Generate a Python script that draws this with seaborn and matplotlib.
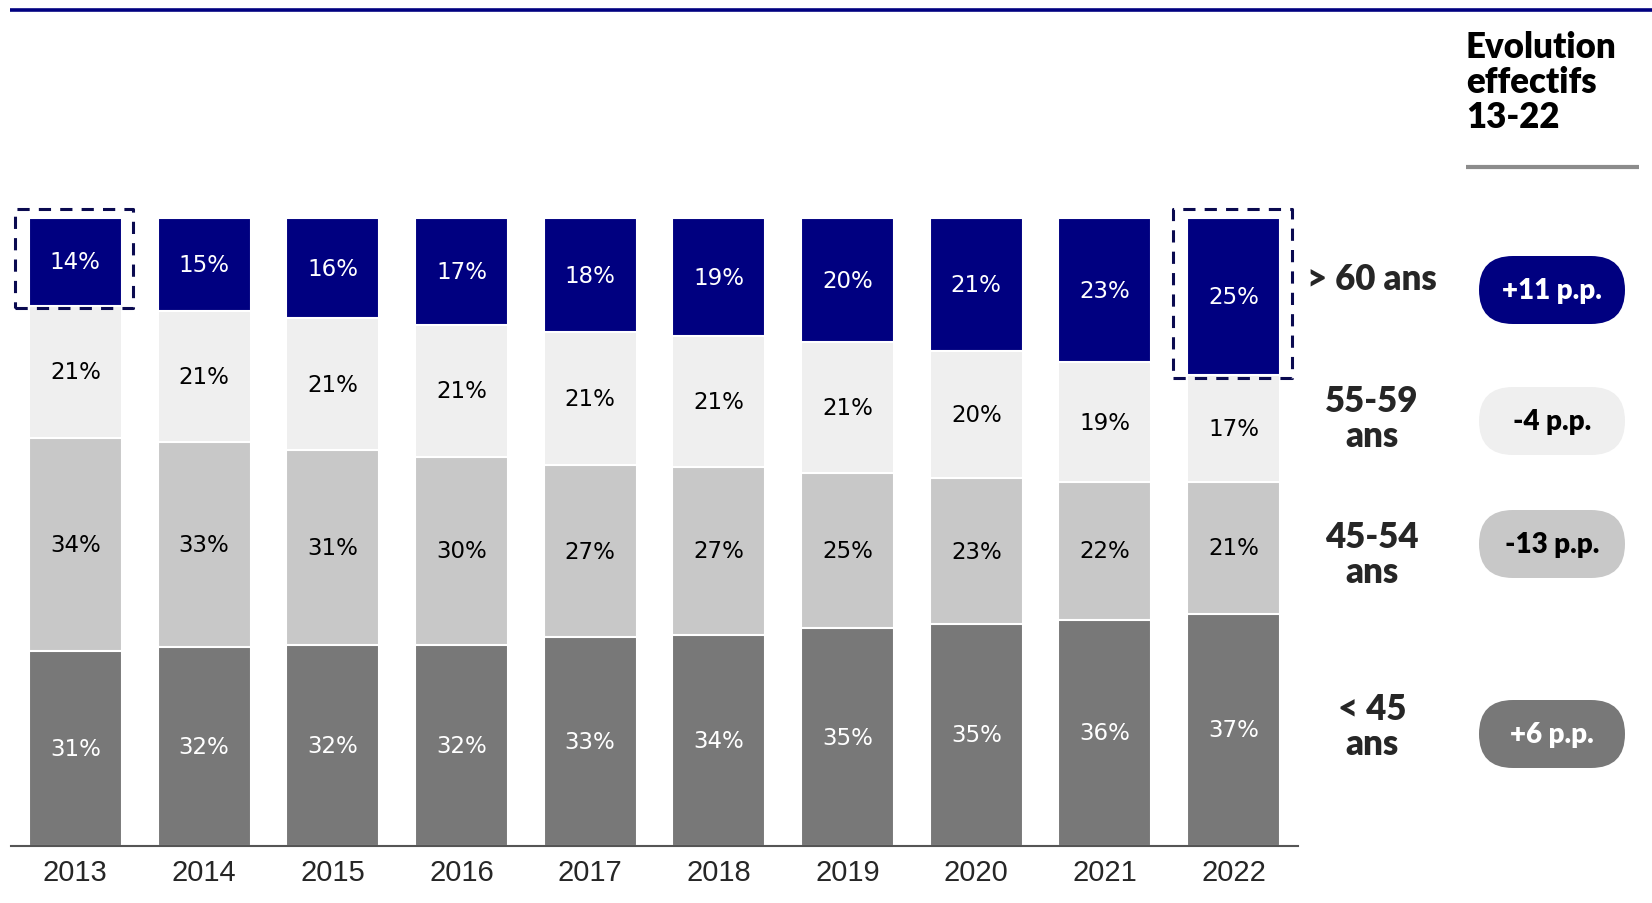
"""Pyramide des âges — barres empilées 2013-2022 avec évolution en p.p."""

import matplotlib
matplotlib.use("Agg")
import matplotlib.pyplot as plt
import numpy as np
import pandas as pd
import seaborn as sns
from matplotlib.patches import FancyBboxPatch, Rectangle

# ── données ──
years = [2013, 2014, 2015, 2016, 2017, 2018, 2019, 2020, 2021, 2022]
moins_45 = [31, 32, 32, 32, 33, 34, 35, 35, 36, 37]
de_45_54 = [34, 33, 31, 30, 27, 27, 25, 23, 22, 21]
de_55_59 = [21, 21, 21, 21, 21, 21, 21, 20, 19, 17]
plus_60 = [14, 15, 16, 17, 18, 19, 20, 21, 23, 25]

layer_names = ["< 45\nans", "45-54\nans", "55-59\nans", "> 60 ans"]
layer_colors = ["#787878", "#c8c8c8", "#efefef", "#000080"]
label_colors = ["white", "black", "black", "white"]
evolution = ["+6 p.p.", "-13 p.p.", "-4 p.p.", "+11 p.p."]
pill_text_colors = ["white", "black", "black", "white"]
header = "Evolution\neffectifs\n13-22"

NAVY = "#000080"

sns.set_theme(style="white")
plt.rcParams["font.family"] = ["DejaVu Sans"]

vals = np.array([moins_45, de_45_54, de_55_59, plus_60], dtype=float)
shares = vals / vals.sum(axis=0) * 100  # normalisé à 100 %
cum = np.cumsum(shares, axis=0)

fig = plt.figure(figsize=(16.52, 9.04), dpi=100)
W, H = 1652, 904
ax = fig.add_axes([11 / W, (H - 847) / H, 1287 / W, 628 / H])

# barres superposées : cumul le plus haut d'abord
for i in range(3, -1, -1):
    df = pd.DataFrame({"year": [str(y) for y in years], "cum": cum[i]})
    sns.barplot(data=df, x="year", y="cum", color=layer_colors[i], saturation=1,
                width=0.723, edgecolor="white", linewidth=1.5, errorbar=None, ax=ax)

# étiquettes dans les segments
for i in range(4):
    base = cum[i] - shares[i]
    for j in range(len(years)):
        ax.text(j, base[j] + shares[i][j] / 2, f"{int(vals[i][j])}%",
                ha="center", va="center", color=label_colors[i], fontsize=16.5,
                family="DejaVu Sans")

# encadrés pointillés (2013 et 2022, > 60 ans)
for j in [0, len(years) - 1]:
    y0 = 100 - shares[3][j] - 0.4
    rect = Rectangle((j - 0.47, y0), 0.92, 101.5 - y0, fill=False,
                     edgecolor="#0a0a50", linewidth=2.2, linestyle=(0, (4, 3)),
                     clip_on=False, zorder=5, joinstyle="round")
    ax.add_patch(rect)

ax.set_xlim(-0.5, 9.5)
ax.set_ylim(0, 100)
ax.set_xlabel("")
ax.set_ylabel("")
ax.set_yticks([])
ax.tick_params(axis="x", length=0, pad=9, labelsize=21)
for lbl in ax.get_xticklabels():
    lbl.set_family("Liberation Sans")
for side in ["top", "left", "right"]:
    ax.spines[side].set_visible(False)
ax.spines["bottom"].set_color("#555555")
ax.spines["bottom"].set_linewidth(1.5)

# ── calque en pixels pour le bandeau de droite ──
ov = fig.add_axes([0, 0, 1, 1])
ov.set_xlim(0, W)
ov.set_ylim(H, 0)
ov.axis("off")

ov.plot([10, W], [11, 11], color=NAVY, linewidth=2.6, solid_capstyle="butt")
ov.text(1466, 31, header, ha="left", va="top", fontsize=25, fontweight="heavy",
        family="Lato", linespacing=1.08, color="black")
ov.plot([1466, 1639], [168, 168], color="#8c8c8c", linewidth=3, solid_capstyle="butt")

label_y = [727, 555, 419, 280]
pill_y = [735, 545, 422, 291]
for i in range(4):
    ov.text(1372, label_y[i], layer_names[i], ha="center", va="center",
            fontsize=25, fontweight="heavy", family="Lato", linespacing=1.08)
    pill = FancyBboxPatch((1479 + 34, pill_y[i]), 146 - 68, 0,
                          boxstyle="round,pad=34", facecolor=layer_colors[i],
                          edgecolor="none")
    ov.add_patch(pill)
    ov.text(1552, pill_y[i], evolution[i], ha="center", va="center",
            fontsize=20, fontweight="heavy", family="Lato",
            color=pill_text_colors[i])

plt.savefig("out.png", dpi=100)
plt.close()
